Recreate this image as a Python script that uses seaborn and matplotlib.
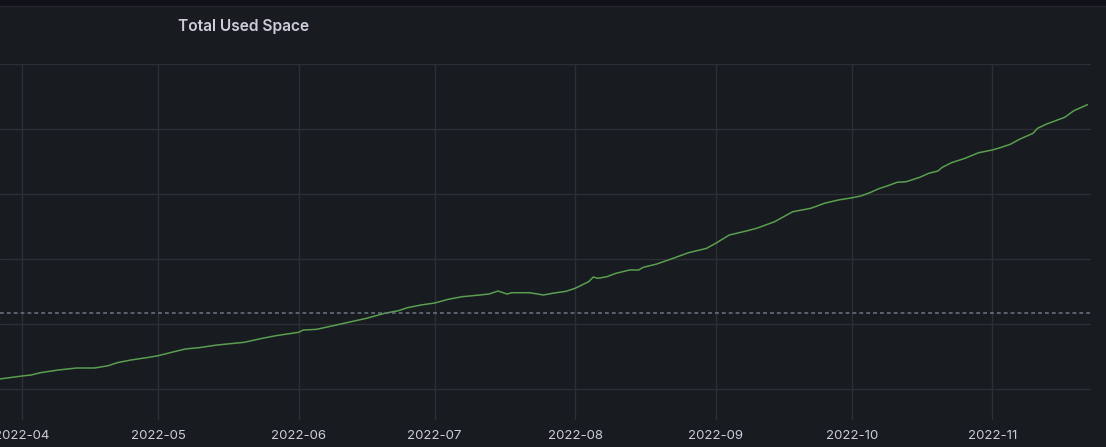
import pandas as pd
import matplotlib.pyplot as plt
import matplotlib.dates as mdates
import seaborn as sns

# values (grid lines at whole units)
dates = ["2022-03-27", "2022-04-01", "2022-04-03", "2022-04-05", "2022-04-09", "2022-04-13",
         "2022-04-17", "2022-04-20", "2022-04-22", "2022-04-25", "2022-04-29", "2022-05-01",
         "2022-05-04", "2022-05-07", "2022-05-10", "2022-05-14", "2022-05-20", "2022-05-24",
         "2022-05-27", "2022-06-01", "2022-06-02", "2022-06-05", "2022-06-10", "2022-06-12",
         "2022-06-16", "2022-06-20", "2022-06-23", "2022-06-25", "2022-06-28", "2022-07-01",
         "2022-07-04", "2022-07-07", "2022-07-11", "2022-07-13", "2022-07-15", "2022-07-17",
         "2022-07-18", "2022-07-22", "2022-07-25", "2022-07-27", "2022-07-30", "2022-08-01",
         "2022-08-04", "2022-08-05", "2022-08-06", "2022-08-08", "2022-08-10", "2022-08-13",
         "2022-08-15", "2022-08-16", "2022-08-19", "2022-08-22", "2022-08-26", "2022-08-30",
         "2022-09-01", "2022-09-04", "2022-09-08", "2022-09-10", "2022-09-14", "2022-09-18",
         "2022-09-22", "2022-09-25", "2022-09-28", "2022-10-01", "2022-10-03", "2022-10-05",
         "2022-10-07", "2022-10-09", "2022-10-11", "2022-10-13", "2022-10-16", "2022-10-18",
         "2022-10-20", "2022-10-21", "2022-10-23", "2022-10-26", "2022-10-29", "2022-11-01",
         "2022-11-03", "2022-11-05", "2022-11-07", "2022-11-10", "2022-11-11", "2022-11-13",
         "2022-11-17", "2022-11-19", "2022-11-22"]
used_space = [1.146, 1.193, 1.208, 1.243, 1.285, 1.316,
              1.316, 1.351, 1.398, 1.439, 1.481, 1.505,
              1.558, 1.609, 1.629, 1.670, 1.712, 1.773,
              1.814, 1.866, 1.901, 1.912, 1.989, 2.020,
              2.082, 2.159, 2.199, 2.245, 2.287, 2.317,
              2.374, 2.414, 2.441, 2.456, 2.502, 2.456,
              2.476, 2.476, 2.441, 2.467, 2.498, 2.544,
              2.646, 2.718, 2.698, 2.723, 2.775, 2.826,
              2.826, 2.867, 2.918, 2.991, 3.092, 3.160,
              3.237, 3.365, 3.431, 3.468, 3.570, 3.724,
              3.777, 3.854, 3.904, 3.938, 3.966, 4.017,
              4.079, 4.125, 4.177, 4.186, 4.254, 4.316,
              4.351, 4.408, 4.479, 4.547, 4.633, 4.675,
              4.716, 4.763, 4.840, 4.932, 5.009, 5.075,
              5.179, 5.280, 5.373]
threshold = 2.156
y_ticks = [1, 2, 3, 4, 5, 6]

df = pd.DataFrame({"time": pd.to_datetime(dates), "used": used_space})

bg = "#181b1f"
grid_col = "#2c2f35"
text_col = "#ccccdc"

sns.set_style("dark", {"axes.facecolor": bg, "figure.facecolor": bg})
plt.rcParams['font.family'] = ['Inter', 'DejaVu Sans']

fig = plt.figure(figsize=(11.06, 4.47), dpi=100)
ax = fig.add_axes([0, 1 - 420 / 447, 1091 / 1106, (420 - 64) / 447])

sns.lineplot(data=df, x="time", y="used", ax=ax, color="#5a9e50", linewidth=1.1)
ax.axhline(threshold, color="#6e7585", linewidth=1.1, linestyle=(0, (2.5, 2)))

ax.set_xlim(pd.Timestamp("2022-03-27 03:30"), pd.Timestamp("2022-11-22 19:00"))
ax.set_ylim(0.515, 6.0)
ax.set_yticks(y_ticks)
ax.set_yticklabels([])
ax.xaxis.set_major_locator(mdates.MonthLocator())
ax.xaxis.set_major_formatter(mdates.DateFormatter("%Y-%m"))
ax.tick_params(axis="both", length=0, colors=text_col, labelsize=9.5, pad=7)
ax.grid(True, color=grid_col, linewidth=1)
ax.set_xlabel("")
ax.set_ylabel("")
for s in ax.spines.values():
    s.set_visible(False)

# dark strip at the top of the panel
fig.patches.append(plt.Rectangle((0, 1 - 5 / 447), 1, 5 / 447, transform=fig.transFigure,
                                 color="#111217", zorder=0))
fig.lines.append(plt.Line2D([0, 1], [1 - 5.5 / 447] * 2, transform=fig.transFigure,
                            color="#24272d", linewidth=1))

fig.text(178 / 1106, 1 - 26 / 447, "Total Used Space", color=text_col, fontsize=11.2,
         fontweight="semibold", ha="left", va="center")

fig.savefig("out.png", dpi=100, facecolor=bg)
